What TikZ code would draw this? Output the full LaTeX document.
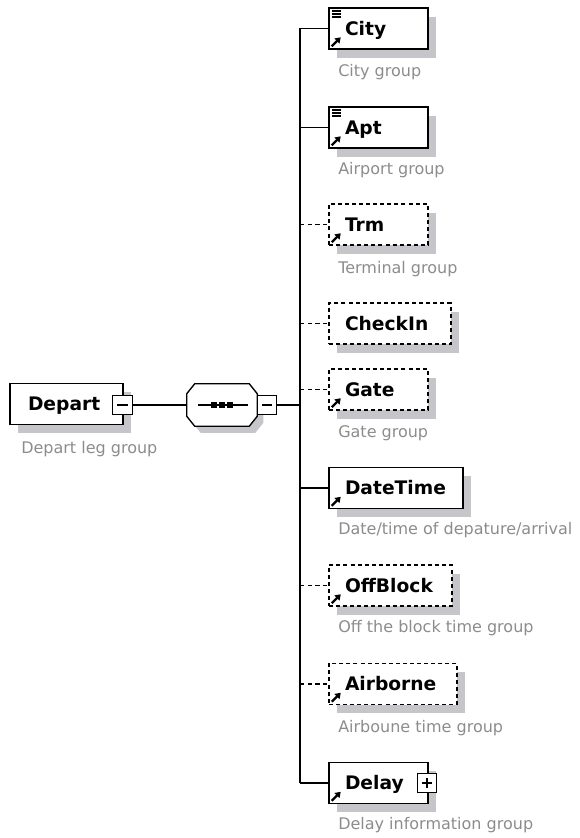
\documentclass[tikz,border=0pt]{standalone}
\usepackage{fontspec}
\setmainfont{DejaVu Sans}
\usetikzlibrary{shadows,arrows.meta,calc}
\definecolor{shgray}{RGB}{198,198,202}
\definecolor{lblgray}{RGB}{140,140,140}
\begin{document}
\begin{tikzpicture}[x=0.75pt,y=-0.75pt,
  elem/.style={draw=black, line width=1.2pt, fill=white, minimum height=30.75pt,
    inner xsep=12pt, inner ysep=0pt, align=left, text height=10.2pt, text depth=0pt,
    font=\fontsize{14}{16}\selectfont\bfseries,
    drop shadow={shadow xshift=6pt,shadow yshift=-6.5pt,fill=shgray,opacity=1,draw=none}},
  optelem/.style={elem, line width=1.1pt, dash pattern=on 3pt off 2.3pt},
  lbl/.style={anchor=west, inner sep=0pt, text=lblgray, font=\fontsize{12}{14}\selectfont},
  conn/.style={line width=0.85pt, black},
  optconn/.style={conn, dash pattern=on 3.2pt off 2.6pt},
  pm/.style={draw=black, fill=white, line width=0.85pt, minimum size=14.5pt, inner sep=0pt},
  minusbox/.style={pm, path picture={\draw[line width=0.85pt]
      ([xshift=-3.8pt]path picture bounding box.center) -- ([xshift=3.8pt]path picture bounding box.center);}},
  plusbox/.style={pm, path picture={\draw[line width=0.85pt]
      ([xshift=-3.8pt]path picture bounding box.center) -- ([xshift=3.8pt]path picture bounding box.center)
      ([yshift=-3.8pt]path picture bounding box.center) -- ([yshift=3.8pt]path picture bounding box.center);}},
  refarrow/.style={line width=1.7pt, -{Triangle[length=4pt,width=5.2pt]}}
]
\useasboundingbox (0,0) rectangle (579,838);

% root element
\node[elem, inner xsep=13.5pt, text width=57.75pt] (depart) at (66.5,404) {Depart};
\node[minusbox] (dminus) at (122.5,405) {};
\node[lbl] (departl) at (21,449) {Depart leg group};

% sequence compositor
\node[minimum width=52.5pt, minimum height=31.5pt, inner sep=0pt] (seq) at (222,405) {};
\fill[shgray, transform canvas={xshift=4.5pt,yshift=-5pt}]
  ($(seq.north west)+(8,0)$) -- ($(seq.north east)+(-8,0)$) -- ($(seq.north east)+(0,10)$)
  -- ($(seq.south east)+(0,-10)$) -- ($(seq.south east)+(-8,0)$) -- ($(seq.south west)+(8,0)$)
  -- ($(seq.south west)+(0,-10)$) -- ($(seq.north west)+(0,10)$) -- cycle;
\draw[line width=1pt, fill=white]
  ($(seq.north west)+(8,0)$) -- ($(seq.north east)+(-8,0)$) -- ($(seq.north east)+(0,10)$)
  -- ($(seq.south east)+(0,-10)$) -- ($(seq.south east)+(-8,0)$) -- ($(seq.south west)+(8,0)$)
  -- ($(seq.south west)+(0,-10)$) -- ($(seq.north west)+(0,10)$) -- cycle;
\draw[line width=1pt] ($(seq.center)+(-24,0)$) -- ($(seq.center)+(26,0)$);
\foreach \dx in {-8,0,8}
  \fill ($(seq.center)+(\dx,0)+(-2.8,-2.8)$) rectangle ($(seq.center)+(\dx,0)+(2.8,2.8)$);
\node[minusbox] (sminus) at (267,405) {};

% children
\node[elem, text width=50.25pt] (city) at (378.5,28.5) {City};
\node[lbl] (cityl) at (338,72) {City group};
\node[elem, text width=50.25pt] (apt) at (378.5,127.5) {Apt};
\node[lbl] (aptl) at (338,170) {Airport group};
\node[optelem, text width=50.25pt] (trm) at (378.5,224.5) {Trm};
\node[lbl] (trml) at (338,269) {Terminal group};
\node[optelem, text width=67.5pt] (checkin) at (390,323.5) {CheckIn};
\node[optelem, text width=50.25pt] (gate) at (378.5,389.5) {Gate};
\node[lbl] (gatel) at (338,433) {Gate group};
\node[elem, text width=76.5pt] (datetime) at (396,488) {DateTime};
\node[lbl] (datetimel) at (338,530) {Date/time of depature/arrival};
\node[optelem, text width=68.25pt] (offblock) at (390.5,585.5) {OffBlock};
\node[lbl] (offblockl) at (338,628) {Off the block time group};
\node[optelem, text width=72pt] (airborne) at (393,684) {Airborne};
\node[lbl] (airbornel) at (338,728) {Airboune time group};
\node[elem, text width=50.25pt] (delay) at (378.5,783) {Delay};
\node[plusbox] (dplus) at (427,783) {};
\node[lbl] (delayl) at (338,825) {Delay information group};

% reference arrows
\foreach \n in {city,apt,trm,gate,datetime,offblock,airborne,delay}
  \draw[refarrow] ($(\n.south west)+(3.5,-3.5)$) -- ($(\n.south west)+(12.5,-12.5)$);
% simple-content lines
\foreach \n in {city,apt}
  \foreach \k in {4,7,10}
    \draw[line width=1.1pt] ($(\n.north west)+(4,\k)$) -- ($(\n.north west)+(13,\k)$);

% connectors
\coordinate (bus) at (300,405);
\draw[conn] (dminus.east) -- (seq.west);
\draw[conn] (sminus.east) -- (bus);
\draw[conn] (bus |- city.west) -- (bus |- delay.west);
\foreach \n in {city,apt,datetime,delay}
  \draw[conn] (bus |- \n.west) -- (\n.west);
\foreach \n in {trm,checkin,gate,offblock,airborne}
  \draw[optconn] (bus |- \n.west) -- (\n.west);
\end{tikzpicture}
\end{document}
